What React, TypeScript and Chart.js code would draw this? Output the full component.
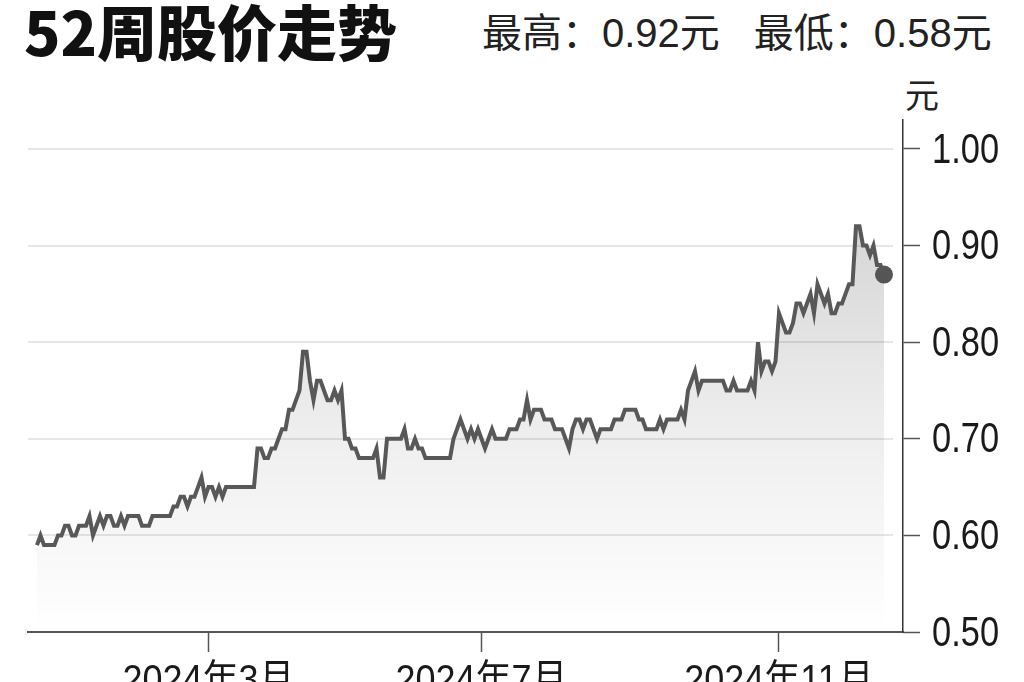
import React, { useEffect, useRef } from "react";
import { Chart, registerables } from "chart.js";

Chart.register(...registerables);

const titleText = "52周股价走势";
const highLabel = "最高：";
const highValue = "0.92";
const lowLabel = "最低：";
const lowValue = "0.58";
const currencyText = "元";
const unitText = "元";

const priceValues = [
  0.59, 0.60, 0.59, 0.59, 0.59, 0.59, 0.60, 0.60, 0.61, 0.61,
  0.60, 0.60, 0.61, 0.61, 0.61, 0.62, 0.60, 0.61, 0.62, 0.61,
  0.62, 0.62, 0.61, 0.61, 0.62, 0.61, 0.62, 0.62, 0.62, 0.62,
  0.61, 0.61, 0.61, 0.62, 0.62, 0.62, 0.62, 0.62, 0.62, 0.63,
  0.63, 0.64, 0.64, 0.63, 0.64, 0.64, 0.65, 0.66, 0.64, 0.65,
  0.65, 0.64, 0.65, 0.64, 0.65, 0.65, 0.65, 0.65, 0.65, 0.65,
  0.65, 0.65, 0.65, 0.69, 0.69, 0.68, 0.68, 0.69, 0.69, 0.70,
  0.71, 0.71, 0.73, 0.73, 0.74, 0.75, 0.79, 0.79, 0.76, 0.74,
  0.76, 0.76, 0.75, 0.74, 0.74, 0.75, 0.74, 0.75, 0.70, 0.70,
  0.69, 0.69, 0.68, 0.68, 0.68, 0.68, 0.68, 0.69, 0.66, 0.66,
  0.70, 0.70, 0.70, 0.70, 0.70, 0.71, 0.69, 0.69, 0.70, 0.69,
  0.69, 0.68, 0.68, 0.68, 0.68, 0.68, 0.68, 0.68, 0.68, 0.70,
  0.71, 0.72, 0.71, 0.70, 0.71, 0.70, 0.71, 0.70, 0.69, 0.70,
  0.71, 0.70, 0.70, 0.70, 0.70, 0.71, 0.71, 0.71, 0.72, 0.72,
  0.74, 0.72, 0.73, 0.73, 0.73, 0.72, 0.72, 0.72, 0.71, 0.71,
  0.71, 0.70, 0.69, 0.71, 0.72, 0.72, 0.71, 0.72, 0.72, 0.71,
  0.70, 0.71, 0.71, 0.71, 0.71, 0.72, 0.72, 0.72, 0.73, 0.73,
  0.73, 0.73, 0.72, 0.72, 0.71, 0.71, 0.71, 0.71, 0.72, 0.71,
  0.72, 0.72, 0.72, 0.72, 0.73, 0.72, 0.75, 0.76, 0.77, 0.75,
  0.76, 0.76, 0.76, 0.76, 0.76, 0.76, 0.76, 0.75, 0.75, 0.76,
  0.75, 0.75, 0.75, 0.75, 0.76, 0.75, 0.80, 0.77, 0.78, 0.78,
  0.77, 0.78, 0.83, 0.82, 0.81, 0.81, 0.82, 0.84, 0.84, 0.83,
  0.84, 0.85, 0.83, 0.86, 0.85, 0.84, 0.85, 0.83, 0.83, 0.84,
  0.84, 0.85, 0.86, 0.86, 0.92, 0.92, 0.90, 0.90, 0.89, 0.90,
  0.88, 0.88, 0.87,
];

// index of the first trading day of each labelled month
const monthTickIndex = [49, 127, 212];
const monthTickLabels = ["2024年3月", "2024年7月", "2024年11月"];

const yTickValues = [0.5, 0.6, 0.7, 0.8, 0.9, 1.0];

const LABEL_FONT = '"Liberation Sans", Arial, "Noto Sans CJK SC", sans-serif';

// Draws narrow tick labels and gridlines that stop short of the axis
const axisDecorPlugin = {
  id: "axisDecor",
  beforeDatasetsDraw(chart: any) {
    const { ctx, chartArea } = chart;
    const ys = chart.scales.y;
    ctx.save();
    ctx.strokeStyle = "#e6e6e6";
    ctx.lineWidth = 2;
    yTickValues.forEach((v) => {
      if (v === 0.5) return;
      const py = Math.round(ys.getPixelForValue(v));
      ctx.beginPath();
      ctx.moveTo(chartArea.left, py);
      ctx.lineTo(chartArea.right - 10, py);
      ctx.stroke();
    });
    ctx.restore();
  },
  afterDraw(chart: any) {
    const { ctx } = chart;
    const ys = chart.scales.y;
    const xs = chart.scales.x;
    ctx.save();
    ctx.fillStyle = "#1a1a1a";
    ctx.font = `42px ${LABEL_FONT}`;
    ctx.textAlign = "left";
    ctx.textBaseline = "middle";
    yTickValues.forEach((v) => {
      const py = ys.getPixelForValue(v);
      ctx.save();
      ctx.translate(ys.left + 29, py + 2);
      ctx.scale(0.82, 1);
      ctx.fillText(v.toFixed(2), 0, 0);
      ctx.restore();
    });
    ctx.font = `40px ${LABEL_FONT}`;
    ctx.textAlign = "center";
    ctx.textBaseline = "top";
    monthTickIndex.forEach((idx, k) => {
      const px = xs.getPixelForValue(idx);
      ctx.save();
      ctx.translate(px, xs.top + 30);
      ctx.scale(0.9, 1);
      ctx.fillText(monthTickLabels[k], 0, 0);
      ctx.restore();
    });
    ctx.restore();
  },
};

export default function App() {
  const canvasRef = useRef<HTMLCanvasElement | null>(null);

  useEffect(() => {
    const canvas = canvasRef.current;
    if (!canvas) return;
    const last = priceValues.length - 1;
    const chart = new Chart(canvas, {
      type: "line",
      data: {
        datasets: [
          {
            data: priceValues.map((v, i) => ({ x: i, y: v })),
            borderColor: "#585858",
            borderWidth: 4,
            tension: 0,
            fill: "start",
            backgroundColor: (ctx: any) => {
              const ch = ctx.chart;
              const area = ch.chartArea;
              if (!area) return "rgba(0,0,0,0.08)";
              const g = ch.ctx.createLinearGradient(0, area.top + 90, 0, area.bottom);
              g.addColorStop(0, "rgba(0,0,0,0.17)");
              g.addColorStop(0.5, "rgba(0,0,0,0.07)");
              g.addColorStop(1, "rgba(0,0,0,0.0)");
              return g;
            },
            pointRadius: (ctx: any) => (ctx.dataIndex === last ? 9 : 0),
            pointHoverRadius: 0,
            pointBackgroundColor: "#555555",
            pointBorderColor: "#555555",
            pointBorderWidth: 0,
          },
        ],
      },
      options: {
        responsive: false,
        animation: false,
        events: [],
        layout: { padding: { left: 28, top: 120, right: 0, bottom: 0 } },
        plugins: {
          legend: { display: false },
          tooltip: { enabled: false },
          title: { display: false },
        },
        scales: {
          x: {
            type: "linear",
            min: -2.57,
            max: 247.43,
            afterFit: (scale: any) => {
              scale.height = 50;
            },
            afterBuildTicks: (scale: any) => {
              scale.ticks = monthTickIndex.map((v) => ({ value: v }));
            },
            ticks: {
              display: false,
              autoSkip: false,
              maxRotation: 0,
            },
            grid: {
              drawOnChartArea: false,
              drawTicks: true,
              tickLength: 20,
              tickColor: "#555555",
              tickWidth: 1.5,
            },
            border: { display: true, color: "#555555", width: 2 },
          },
          y: {
            type: "linear",
            position: "right",
            min: 0.5,
            max: 1.03,
            afterFit: (scale: any) => {
              scale.width = 121;
            },
            afterBuildTicks: (scale: any) => {
              scale.ticks = yTickValues.map((v) => ({ value: v }));
            },
            ticks: {
              display: false,
            },
            grid: {
              drawOnChartArea: false,
              drawTicks: true,
              tickLength: 17,
              tickColor: "#555555",
              tickWidth: 1.5,
            },
            border: { display: true, color: "#333333", width: 1.5 },
          },
        },
      },
      plugins: [axisDecorPlugin],
    });
    return () => {
      chart.destroy();
    };
  }, []);

  const subStyle: React.CSSProperties = {
    fontFamily: LABEL_FONT,
    fontSize: 40,
  };

  return (
    <div
      style={{
        position: "fixed",
        left: 0,
        top: 0,
        width: 1024,
        height: 682,
        background: "#ffffff",
        overflow: "hidden",
      }}
    >
      <div
        style={{
          position: "absolute",
          left: 24,
          top: -5,
          fontFamily: '"Noto Sans CJK SC", sans-serif',
          fontWeight: 900,
          fontSize: 60,
          lineHeight: "70px",
          color: "#111111",
          whiteSpace: "nowrap",
        }}
      >
        {titleText}
      </div>
      <div
        style={{
          position: "absolute",
          left: 482,
          top: 8,
          lineHeight: "50px",
          color: "#222222",
          whiteSpace: "nowrap",
          ...subStyle,
        }}
      >
        <span>{highLabel}</span>
        <span>{highValue}</span>
        <span>{currencyText}</span>
        <span style={{ display: "inline-block", width: 34 }} />
        <span>{lowLabel}</span>
        <span>{lowValue}</span>
        <span>{currencyText}</span>
      </div>
      <div
        style={{
          position: "absolute",
          left: 905,
          top: 72,
          fontFamily: '"Noto Sans CJK SC", sans-serif',
          fontSize: 34,
          lineHeight: "44px",
          color: "#222222",
        }}
      >
        {unitText}
      </div>
      <canvas
        ref={canvasRef}
        width={1024}
        height={682}
        style={{ position: "absolute", left: 0, top: 0, width: 1024, height: 682 }}
      />
    </div>
  );
}
